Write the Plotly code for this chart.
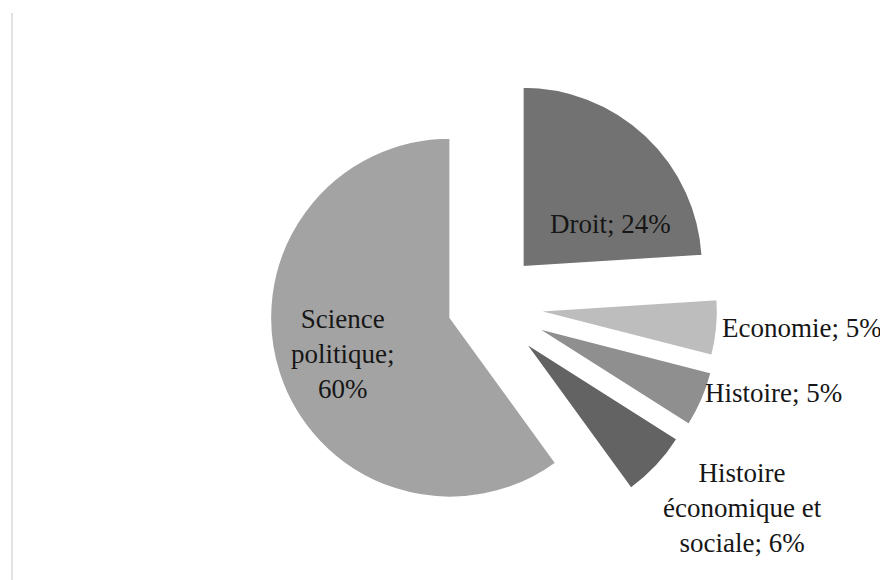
import plotly.graph_objects as go

categories = ["Droit", "Economie", "Histoire", "Histoire économique et sociale", "Science politique"]
display_names = ["Droit", "Economie", "Histoire", "Histoire<br>économique et<br>sociale", "Science<br>politique"]
values = [24, 5, 5, 6, 60]
colors = ["#727272", "#bdbdbd", "#8f8f8f", "#636363", "#a3a3a3"]
pulls = [0.30, 0.29, 0.31, 0.30, 0.21]

# page body has an 8px margin: figure pixel = screen pixel - 8
OFF = 8
# label anchor points (screen pixels)
label_px = [(610, 224), (802, 328), (773, 393), (742, 508), (343, 354)]

texts = []
for name, v in zip(display_names, values):
    sep = ";<br>" if name.startswith("Science") else "; "
    texts.append(f"{name}{sep}{v}%")

W, H = 888, 580
cx, cy = 486 - OFF, 306 - OFF
half = 235.4
FONT = dict(family="Liberation Serif", size=27, color="#161616")

fig = go.Figure(go.Pie(
    labels=categories,
    values=values,
    text=texts,
    textposition="none",
    sort=False,
    direction="clockwise",
    rotation=0,
    pull=pulls,
    marker=dict(colors=colors, line=dict(color="white", width=1.5)),
    showlegend=False,
    hoverinfo="label+percent",
    domain=dict(x=[(cx - half) / W, (cx + half) / W],
                y=[(H - cy - half) / H, (H - cy + half) / H]),
))

annotations = []
for t, (px, py) in zip(texts, label_px):
    annotations.append(dict(x=(px - OFF) / W, y=(H - (py - OFF)) / H,
                            xref="paper", yref="paper",
                            text=t, showarrow=False, font=FONT,
                            xanchor="center", yanchor="middle", align="center"))

fig.update_layout(
    width=W, height=H,
    margin=dict(l=0, r=0, t=0, b=0),
    paper_bgcolor="white",
    plot_bgcolor="white",
    annotations=annotations,
    shapes=[dict(type="line", xref="paper", yref="paper",
                 x0=(12 - OFF) / W, x1=(12 - OFF) / W, y0=0, y1=(H - (13 - OFF)) / H,
                 line=dict(color="#c4c4c4", width=1))],
)

fig.write_html("out.html")
